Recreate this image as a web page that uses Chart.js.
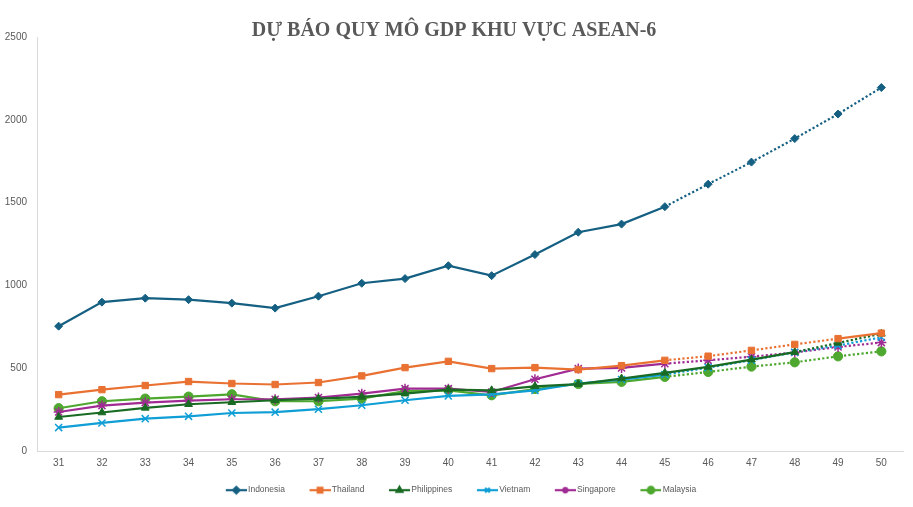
<!DOCTYPE html>
<html>
<head>
<meta charset="utf-8">
<script src="https://cdn.jsdelivr.net/npm/chart.js@4/dist/chart.umd.min.js"></script>
<style>
html,body{margin:0;padding:0;background:#fff;}
#wrap{width:913px;height:507px;position:relative;}
</style>
</head>
<body>
<div id="wrap"><canvas id="c" width="913" height="507"></canvas></div>
<script>
const years = ['31','32','33','34','35','36','37','38','39','40','41','42','43','44','45','46','47','48','49','50'];
const indonesia   = [755,900,924,915,894,864,936,1014,1042,1120,1060,1187,1322,1371,1476,1612,1745,1887,2035,2195];
const thailand    = [342,372,397,421,409,403,415,455,505,543,499,505,493,517,549,574,609,645,680,713];
const philippines = [207,234,262,284,296,308,318,328,348,372,368,392,405,439,473,509,553,598,654,709];
const vietnam     = [143,171,197,211,231,236,254,278,308,334,344,368,409,433,463,505,550,598,638,688];
const singapore   = [237,276,294,306,314,314,324,348,378,378,358,435,499,503,529,549,571,596,630,656];
const malaysia    = [260,302,318,330,344,302,302,318,364,368,338,376,406,419,449,479,511,537,573,603];
const seriesNames = ['Indonesia','Thailand','Philippines','Vietnam','Singapore','Malaysia'];
const yTicks = [0,500,1000,1500,2000,2500];

const colors = ['#156082','#E97132','#196B24','#0F9ED5','#A02B93','#4EA72E'];
const styles = ['rectRot','rect','triangle','crossRot','star','circle'];
const radii  = [4,4.5,4.5,5,5,4.6];
// dotted segments: segment start index in [from, to)
const dottedRanges = [[14,19],[14,18],[17,19],[14,19],[14,19],[14,19]];

function dashFn(i){
  return ctx => (ctx.p0DataIndex >= dottedRanges[i][0] && ctx.p0DataIndex < dottedRanges[i][1]) ? [2.2,2.2] : undefined;
}

const LEG_BOX = 32;
function legendIcon(i){
  const cv = document.createElement('canvas');
  cv.width = LEG_BOX + 6; cv.height = 12;
  const g = cv.getContext('2d');
  g.strokeStyle = colors[i]; g.lineWidth = 2.2;
  g.beginPath(); g.moveTo(cv.width-21,6); g.lineTo(cv.width,6); g.stroke();
  g.fillStyle = colors[i];
  g.strokeStyle = colors[i];
  Chart.helpers.drawPoint(g, {pointStyle: styles[i], radius: 3.3, borderWidth: 1.2, rotation: 0}, cv.width-10.5, 6);
  return cv;
}

const values = [indonesia, thailand, philippines, vietnam, singapore, malaysia];
const datasets = values.map((v,i)=>({
  label: seriesNames[i],
  data: v,
  borderColor: colors[i],
  backgroundColor: colors[i],
  borderWidth: 2.2,
  pointStyle: styles[i],
  pointRadius: radii[i],
  pointHoverRadius: radii[i],
  pointBorderWidth: styles[i]==='crossRot'||styles[i]==='star' ? 1.5 : 1,
  pointBorderColor: colors[i],
  pointBackgroundColor: colors[i],
  tension: 0,
  fill: false,
  segment: { borderDash: dashFn(i) }
}));

const tickFont = {family: "'Liberation Sans', Arial, sans-serif", size: 10};
const legendFont = {family: "'Liberation Sans', Arial, sans-serif", size: 8.5};

new Chart(document.getElementById('c'), {
  type: 'line',
  data: { labels: years, datasets },
  options: {
    responsive: false,
    animation: false,
    layout: { padding: {left: 5, right: 10, top: 4, bottom: 2.6} },
    plugins: {
      title: {
        display: true,
        text: 'DỰ BÁO QUY MÔ GDP KHU VỰC ASEAN-6',
        color: '#595959',
        font: {family: "'Liberation Serif', 'Times New Roman', serif", size: 20, weight: 'bold'},
        padding: {top: 15, bottom: -6}
      },
      legend: {
        position: 'bottom',
        labels: {
          usePointStyle: true,
          pointStyleWidth: LEG_BOX,
          color: '#595959',
          font: legendFont,
          padding: 10.6,
          generateLabels: chart => chart.data.datasets.map((d,i)=>({
            text: d.label,
            pointStyle: legendIcon(i),
            fillStyle: colors[i],
            strokeStyle: colors[i],
            lineWidth: 0,
            hidden: false,
            datasetIndex: i,
            fontColor: '#595959'
          }))
        }
      },
      tooltip: {enabled: false}
    },
    scales: {
      x: {
        offset: true,
        grid: { display: false, drawTicks: false },
        border: { display: true, color: '#D9D9D9', width: 1 },
        ticks: { color: '#595959', font: tickFont, padding: 6, maxRotation: 0 }
      },
      y: {
        min: 0, max: 2500,
        afterBuildTicks: axis => { axis.ticks = yTicks.map(v=>({value:v})); },
        afterFit: axis => { axis.width = 32; },
        grid: { display: false, drawTicks: false },
        border: { display: true, color: '#D9D9D9', width: 1 },
        ticks: { color: '#595959', font: tickFont, padding: 10, callback: v => String(v) }
      }
    }
  }
});
</script>
</body>
</html>
